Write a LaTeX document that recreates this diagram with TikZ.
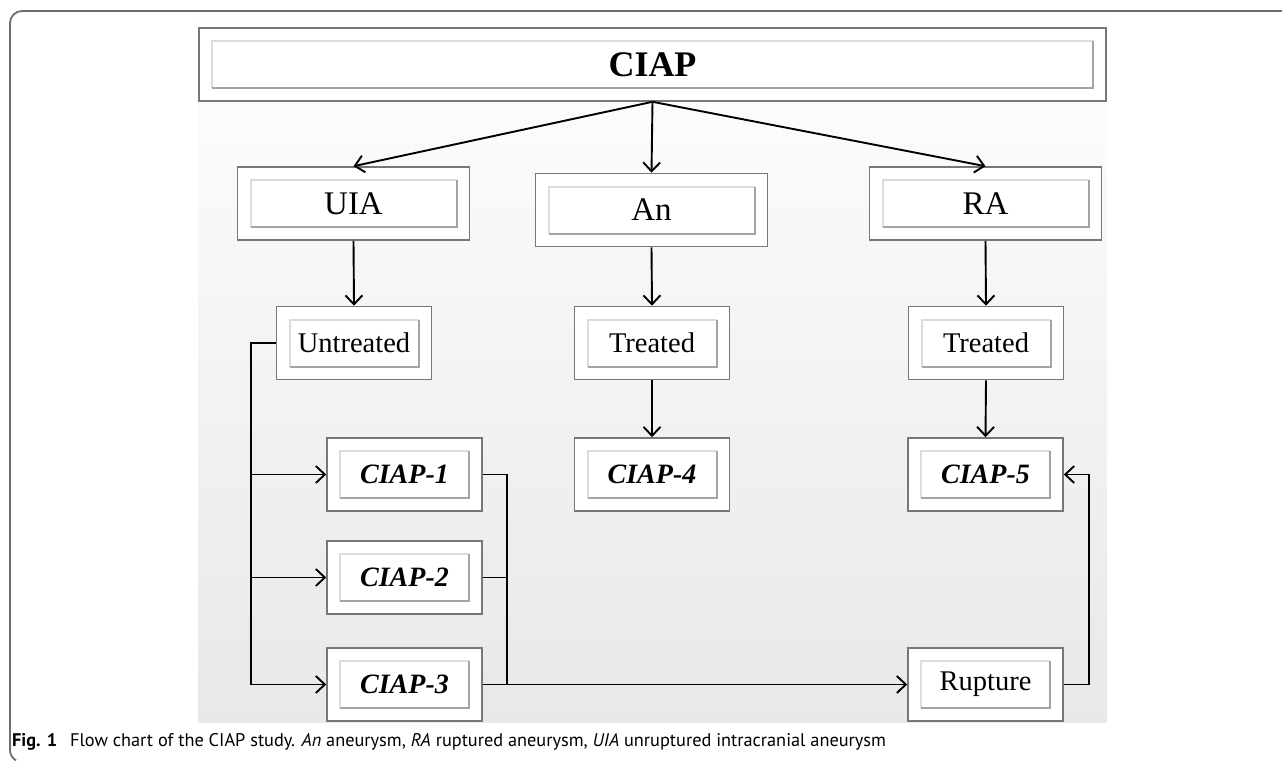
\documentclass[tikz,border=0pt]{standalone}
\usepackage{fontspec}
\setmainfont{Liberation Serif}
\newfontfamily\capfont{PT Sans}
\usepackage{tikz}
\usetikzlibrary{arrows.meta}

\definecolor{framegray}{HTML}{6E6E6E}
\definecolor{boxgray}{HTML}{777777}
\definecolor{lightedge}{HTML}{DCDCDC}
\definecolor{darkedge}{HTML}{A4A4A4}

\tikzset{
  flowbox/.style={draw=boxgray, line width=1.6pt, fill=white, inner sep=0pt,
    minimum width=155pt, minimum height=73pt,
    font=\fontsize{28.5}{30}\selectfont,
    path picture={
      \draw[line width=2pt, lightedge] ([shift={(13pt,13pt)}]path picture bounding box.south west) |- ([shift={(-13pt,-13pt)}]path picture bounding box.north east);
      \draw[line width=2pt, darkedge] ([shift={(13pt,13pt)}]path picture bounding box.south west) -| ([shift={(-13pt,-13pt)}]path picture bounding box.north east);
    }},
  widebox/.style={flowbox, minimum width=232pt, font=\fontsize{33}{35}\selectfont},
  studybox/.style={flowbox, font=\fontsize{28}{30}\selectfont\bfseries\itshape},
  flowarrow/.style={line width=1.9pt, -{Straight Barb[length=9pt,width=17pt]}},
  flowline/.style={line width=1.9pt}
}

\begin{document}
\begin{tikzpicture}[x=1pt, y=-1pt]
              \useasboundingbox (0,0) rectangle (1282,761);
              \shade[top color=white, bottom color=black!9] (198,0) rectangle (1107,722);
              \draw[framegray, line width=1.8pt] (1282,11) -- (22,11) arc[start angle=90, end angle=180, radius=12pt] -- (10,750) arc[start angle=180, end angle=240, radius=12pt];

              \node[flowbox, minimum width=907pt, font=\fontsize{36}{38}\selectfont\bfseries] (ciap) at (652.5,64.5) {CIAP};
              \node[widebox] (uia) at (353.5,203.5) {UIA};
              \node[widebox] (an) at (651.5,210) {An};
              \node[widebox] (ra) at (985.5,203.5) {RA};
              \node[flowbox] (untreated) at (354,343) {Untreated};
              \node[flowbox] (antreated) at (652,343) {Treated};
              \node[flowbox] (ratreated) at (986,343) {Treated};
              \node[studybox] (ciap1) at (404.5,474.5) {CIAP-1};
              \node[studybox] (ciap2) at (404.5,577.5) {CIAP-2};
              \node[studybox] (ciap3) at (404.5,684.5) {CIAP-3};
              \node[studybox] (ciap4) at (652,474.5) {CIAP-4};
              \node[studybox] (ciap5) at (985.5,474.5) {CIAP-5};
              \node[flowbox] (rupture) at (985.5,684.5) {Rupture};

              \coordinate (split) at (251,343);
              \coordinate (merge) at (507,684.5);
              \coordinate (back) at (1089,684.5);

              \draw[flowarrow] (ciap.south) -- (uia.north);
              \draw[flowarrow] (ciap.south) -- (an.north);
              \draw[flowarrow] (ciap.south) -- (ra.north);
              \draw[flowarrow] (uia.south) -- (untreated.north);
              \draw[flowarrow] (an.south) -- (antreated.north);
              \draw[flowarrow] (ra.south) -- (ratreated.north);
              \draw[flowarrow] (antreated.south) -- (ciap4.north);
              \draw[flowarrow] (ratreated.south) -- (ciap5.north);
              \draw[flowarrow] (untreated.west) -- (split) |- (ciap3.west);
              \draw[flowarrow] (split |- ciap1.west) -- (ciap1.west);
              \draw[flowarrow] (split |- ciap2.west) -- (ciap2.west);
              \draw[flowline] (ciap1.east) -| (merge);
              \draw[flowline] (ciap2.east) -- (merge |- ciap2.east);
              \draw[flowarrow] (ciap3.east) -- (rupture.west);
              \draw[flowarrow] (rupture.east) -- (back) |- (ciap5.east);

              \node[anchor=base west, inner sep=0pt, font=\capfont\fontsize{18.3}{20}\selectfont] (caption) at (12,746) {\textbf{Fig. 1}\hspace{0.7em}Flow chart of the CIAP study. \textit{An} aneurysm, \textit{RA} ruptured aneurysm, \textit{UIA} unruptured intracranial aneurysm};
          \end{tikzpicture}
\end{document}
